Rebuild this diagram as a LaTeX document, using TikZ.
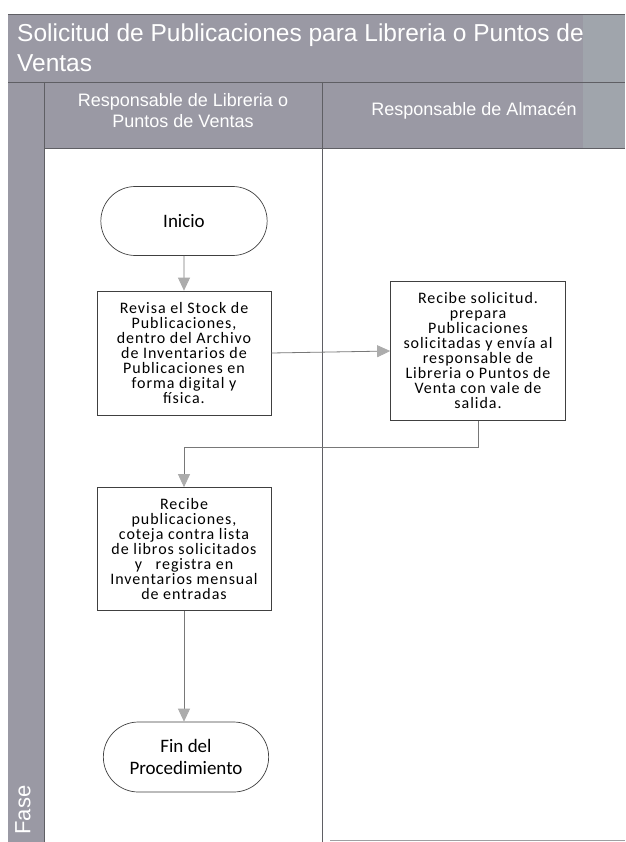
\documentclass[tikz,border=0pt]{standalone}
\usepackage{fontspec}
\setmainfont{Liberation Sans}
\newfontfamily\boxfont{Carlito}
\newfontfamily\boxfontwide[LetterSpace=6]{Carlito}
\usetikzlibrary{arrows.meta,shapes.misc}
\definecolor{bandgray}{RGB}{154,153,164}
\definecolor{bandblue}{RGB}{160,165,172}
\definecolor{edgegray}{RGB}{95,95,100}
\definecolor{flowline}{RGB}{120,120,120}
\definecolor{headfill}{RGB}{172,172,172}
\tikzset{
  band/.style={fill=bandgray,draw=none},
  lanerule/.style={draw=edgegray,line width=0.8pt},
  hdrtext/.style={text=white,font=\fontsize{18}{21}\selectfont,align=center},
  stepbox/.style={draw=black!75,line width=0.7pt,fill=white,minimum width=174pt,align=center,
    font=\boxfontwide\fontsize{16}{15}\selectfont,inner sep=2pt},
  termbox/.style={draw=black!75,line width=0.7pt,fill=white,rounded rectangle,minimum width=173pt,
    minimum height=69pt,align=center,font=\boxfont\fontsize{19}{22}\selectfont},
  flow/.style={draw=flowline,line width=0.8pt,-{Triangle[length=13pt,width=12pt,color=headfill]}},
}
\begin{document}
\begin{tikzpicture}[x=1pt,y=-1pt]
\useasboundingbox (0,0) rectangle (625,842);
\fill[white] (0,0) rectangle (625,842);
% title band and lane headers
\fill[band] (8,14) rectangle (625,148);
\fill[bandblue] (583,14) rectangle (625,148);
\fill[band] (8,148) rectangle (44,842);
\draw[lanerule] (8,14) -- (625,14);
\draw[lanerule] (8,82) -- (625,82);
\draw[lanerule] (44,148) -- (625,148);
\draw[lanerule] (44,82) -- (44,842);
\draw[lanerule] (322,82) -- (322,842);
\draw[draw=edgegray!60,line width=0.8pt] (330,840) -- (625,840);
\node[anchor=west,text=white,font=\fontsize{24.5}{30}\selectfont,align=left,inner sep=0pt] (title) at (17,48)
  {Solicitud de Publicaciones para Libreria o Puntos de\\Ventas};
\node[hdrtext] (lane1) at (183,111) {Responsable de Libreria o\\Puntos de Ventas};
\node[hdrtext] (lane2) at (474,111) {Responsable de Almacén};
\node[text=white,rotate=90,font=\fontsize{22}{24}\selectfont] (fase) at (23,810) {Fase};
% process steps
\node[termbox] (inicio) at (184,221) {Inicio};
\node[stepbox,minimum height=124pt] (revisa) at (184,353)
  {Revisa el Stock de\\Publicaciones,\\dentro del Archivo\\de Inventarios de\\Publicaciones en\\forma digital y\\física.};
\node[stepbox,minimum height=139pt,minimum width=175pt] (prepara) at (478,351)
  {Recibe solicitud.\\prepara\\Publicaciones\\solicitadas y envía al\\responsable de\\Libreria o Puntos de\\Venta con vale de\\salida.};
\node[stepbox,minimum height=123pt] (recibe) at (184,549)
  {Recibe\\publicaciones,\\coteja contra lista\\de libros solicitados\\y\ \ \ registra en\\Inventarios mensual\\de entradas};
\node[termbox,minimum width=172pt,minimum height=70pt] (fin) at (186,757) {Fin del\\Procedimiento};
% connectors
\coordinate (turn) at (478,447);
\draw[flow] (inicio) -- (revisa);
\draw[flow] (revisa.east) -- (prepara.west);
\draw[flow] (prepara.south) -- (turn) -| (recibe.north);
\draw[flow] (recibe.south) -- (recibe.south |- fin.north);
\end{tikzpicture}
\end{document}
